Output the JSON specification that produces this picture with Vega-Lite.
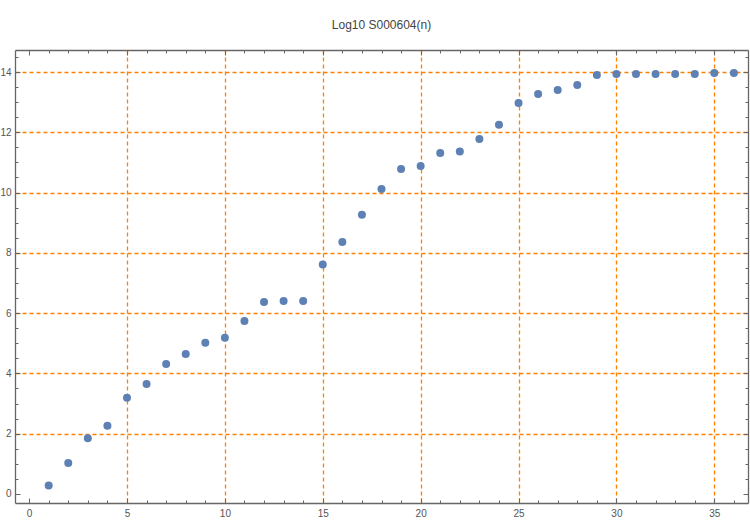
{
  "$schema": "https://vega.github.io/schema/vega-lite/v6.json",
  "width": 733,
  "height": 453,
  "autosize": "none",
  "padding": {"left": 15, "top": 50, "right": 2, "bottom": 18},
  "background": "white",
  "title": {"text": "Log10 S000604(n)", "anchor": "middle", "fontSize": 12, "fontWeight": "normal", "color": "#444444", "font": "Liberation Sans", "offset": 18},
  "config": {
    "view": {"stroke": null},
    "axis": {"domainColor": "#666666", "domainWidth": 1.3, "labelFont": "Liberation Sans", "labelFontSize": 10, "labelColor": "#555555", "tickColor": "#666666", "title": null}
  },
  "data": {"values": [
    {"n": 1, "v": 0.28}, {"n": 2, "v": 1.03}, {"n": 3, "v": 1.85}, {"n": 4, "v": 2.26},
    {"n": 5, "v": 3.19}, {"n": 6, "v": 3.65}, {"n": 7, "v": 4.31}, {"n": 8, "v": 4.64},
    {"n": 9, "v": 5.02}, {"n": 10, "v": 5.18}, {"n": 11, "v": 5.74}, {"n": 12, "v": 6.37},
    {"n": 13, "v": 6.40}, {"n": 14, "v": 6.40}, {"n": 15, "v": 7.61}, {"n": 16, "v": 8.36},
    {"n": 17, "v": 9.26}, {"n": 18, "v": 10.12}, {"n": 19, "v": 10.78}, {"n": 20, "v": 10.88},
    {"n": 21, "v": 11.31}, {"n": 22, "v": 11.36}, {"n": 23, "v": 11.78}, {"n": 24, "v": 12.25},
    {"n": 25, "v": 12.97}, {"n": 26, "v": 13.27}, {"n": 27, "v": 13.40}, {"n": 28, "v": 13.57},
    {"n": 29, "v": 13.90}, {"n": 30, "v": 13.93}, {"n": 31, "v": 13.93}, {"n": 32, "v": 13.93},
    {"n": 33, "v": 13.93}, {"n": 34, "v": 13.93}, {"n": 35, "v": 13.97}, {"n": 36, "v": 13.97}
  ]},
  "resolve": {"axis": {"x": "independent", "y": "independent"}},
  "layer": [
    {
      "mark": {"type": "point", "opacity": 0},
      "encoding": {
        "x": {"field": "n", "type": "quantitative", "scale": {"domain": [-0.72, 36.72], "nice": false, "zero": false},
          "axis": {"orient": "top", "values": [0,1,2,3,4,5,6,7,8,9,10,11,12,13,14,15,16,17,18,19,20,21,22,23,24,25,26,27,28,29,30,31,32,33,34,35,36], "labels": false, "grid": false,
            "tickSize": {"condition": {"test": "datum.value % 5 === 0", "value": -5}, "value": -3}}},
        "y": {"field": "v", "type": "quantitative", "scale": {"domain": [-0.3, 14.73], "nice": false, "zero": false},
          "axis": {"orient": "right", "values": [0,0.5,1,1.5,2,2.5,3,3.5,4,4.5,5,5.5,6,6.5,7,7.5,8,8.5,9,9.5,10,10.5,11,11.5,12,12.5,13,13.5,14,14.5], "labels": false, "grid": false,
            "tickSize": {"condition": {"test": "datum.value % 2 === 0", "value": -5}, "value": -3}}}
      }
    },
    {
      "mark": {"type": "circle", "size": 64, "color": "#5E81B5", "opacity": 1},
      "encoding": {
        "x": {"field": "n", "type": "quantitative",
          "axis": {"orient": "bottom", "values": [0,1,2,3,4,5,6,7,8,9,10,11,12,13,14,15,16,17,18,19,20,21,22,23,24,25,26,27,28,29,30,31,32,33,34,35,36],
            "labelExpr": "datum.value % 5 === 0 ? format(datum.value, 'd') : ''", "labelPadding": 10,
            "tickSize": {"condition": {"test": "datum.value % 5 === 0", "value": -5}, "value": -3},
            "grid": true, "gridDash": [4, 3], "gridWidth": 1.3,
            "gridColor": {"condition": {"test": "datum.value % 5 === 0 && datum.value > 0", "value": "#FF8000"}, "value": "transparent"}}},
        "y": {"field": "v", "type": "quantitative",
          "axis": {"orient": "left", "values": [0,0.5,1,1.5,2,2.5,3,3.5,4,4.5,5,5.5,6,6.5,7,7.5,8,8.5,9,9.5,10,10.5,11,11.5,12,12.5,13,13.5,14,14.5],
            "labelExpr": "datum.value % 2 === 0 ? format(datum.value, 'd') : ''", "labelPadding": 9,
            "tickSize": {"condition": {"test": "datum.value % 2 === 0", "value": -5}, "value": -3},
            "grid": true, "gridDash": [4, 3], "gridWidth": 1.3,
            "gridColor": {"condition": {"test": "datum.value % 2 === 0 && datum.value > 0", "value": "#FF8000"}, "value": "transparent"}}}
      }
    }
  ]
}
